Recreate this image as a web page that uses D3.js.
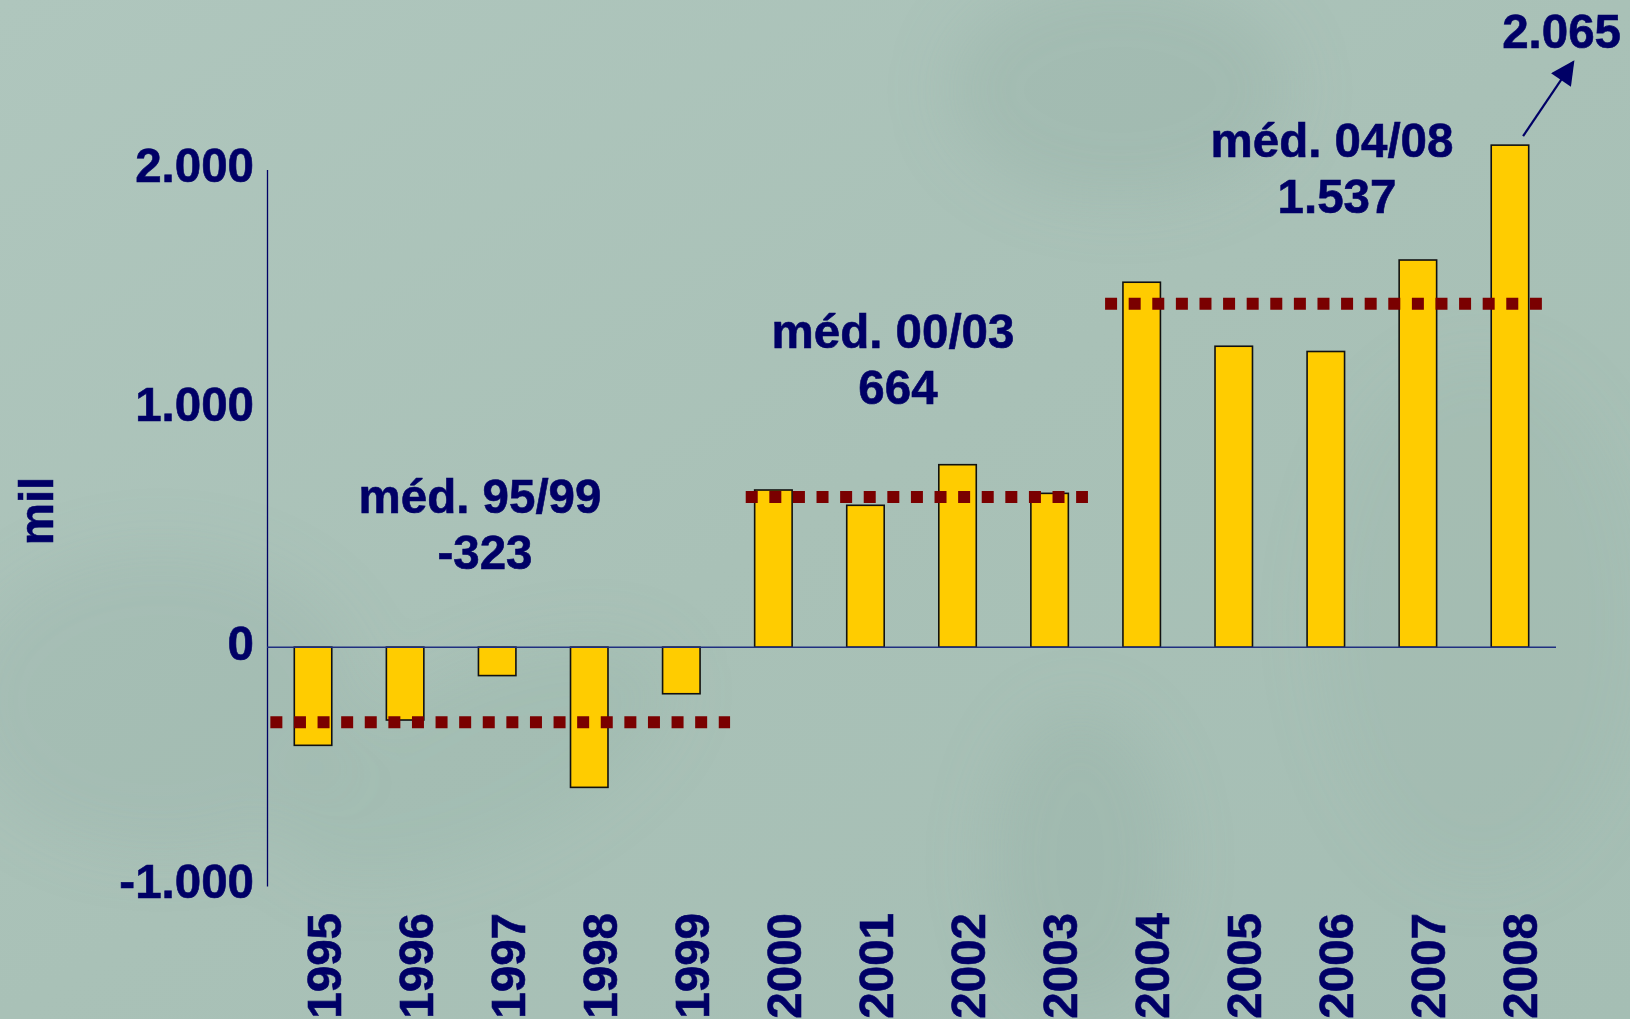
<!DOCTYPE html>
<html>
<head>
<meta charset="utf-8">
<script src="https://cdn.jsdelivr.net/npm/d3@7.9.0/dist/d3.min.js"></script>
<style>
  html, body { margin: 0; padding: 0; background: #aac2b8; }
  svg { display: block; }
  text { font-family: "Liberation Sans", Arial, Helvetica, sans-serif; font-weight: bold; fill: #000066;
         stroke: #000066; stroke-width: 0.6px; }
</style>
</head>
<body>
<svg id="chart" width="1630" height="1019"></svg>
<script>
// saldo anual (mil)
const years = ["1995", "1996", "1997", "1998", "1999", "2000", "2001",
  "2002", "2003", "2004", "2005", "2006", "2007", "2008"];
const values = [-411, -305, -119, -587, -195, 658, 594, 764, 644,
  1528, 1260, 1238, 1621, 2102];

// médias por período
const periodStart = ["1995", "2000", "2004"];
const periodEnd = ["1999", "2003", "2008"];
const periodLabels = ["méd. 95/99", "méd. 00/03", "méd. 04/08"];
const periodAvg = [-323, 664, 1537];
const periodLine = [-314, 629, 1438]; // altura da linha pontilhada no gráfico

const yTicks = [-1000, 0, 1000, 2000];
const peakLabel = 2065;

const width = 1630, height = 1019;
const fontSize = 47.5;
const svg = d3.select("#chart");

const locale = d3.formatLocale({ decimal: ",", thousands: ".", grouping: [3], currency: ["R$", ""], minus: "-" });
const fmt = locale.format(",d");

// fundo
const defs = svg.append("defs");
const bg = defs.append("linearGradient").attr("id", "bg")
  .attr("x1", 0).attr("y1", 0).attr("x2", 1).attr("y2", 1);
bg.append("stop").attr("offset", 0).attr("stop-color", "#afc6bd");
bg.append("stop").attr("offset", 0.5).attr("stop-color", "#a9c1b7");
bg.append("stop").attr("offset", 1).attr("stop-color", "#a5beb4");
defs.append("filter").attr("id", "soft")
  .append("feGaussianBlur").attr("stdDeviation", 30);

svg.append("rect").attr("width", width).attr("height", height).attr("fill", "url(#bg)");
const shade = svg.append("g").attr("filter", "url(#soft)").attr("fill", "#93ada3");
shade.append("ellipse").attr("cx", 1120).attr("cy", 90).attr("rx", 170).attr("ry", 110).attr("opacity", 0.3);
shade.append("ellipse").attr("cx", 160).attr("cy", 700).attr("rx", 200).attr("ry", 150).attr("opacity", 0.22);
shade.append("ellipse").attr("cx", 1080).attr("cy", 860).attr("rx", 90).attr("ry", 150).attr("opacity", 0.3);
shade.append("ellipse").attr("cx", 480).attr("cy", 760).attr("rx", 210).attr("ry", 90)
  .attr("transform", "rotate(-25 480 760)").attr("opacity", 0.2);
shade.append("ellipse").attr("cx", 1480).attr("cy", 620).attr("rx", 160).attr("ry", 260).attr("opacity", 0.15);

// escalas
const x = d3.scaleBand().domain(years).range([267, 1556])
  .paddingInner(0.593).paddingOuter(0.2965);
const y = d3.scaleLinear().domain([-1000, 2000]).range([886, 169.5]);

// eixo y
const yAxis = svg.append("g")
  .attr("transform", `translate(${x.range()[0]},0)`)
  .call(d3.axisLeft(y).tickValues(yTicks).tickFormat(fmt).tickSize(0).tickSizeOuter(0).tickPadding(13));
yAxis.select(".domain").attr("stroke", "#000066").attr("stroke-width", 1.3);
yAxis.selectAll("text").attr("font-size", fontSize).attr("fill", "#000066")
  .attr("dy", "0.25em").style("font-family", "'Liberation Sans', Arial, sans-serif").style("font-weight", "bold");

svg.append("text")
  .attr("transform", "translate(53,511) rotate(-90)")
  .attr("text-anchor", "middle").attr("font-size", fontSize).text("mil");

// barras
svg.append("g").selectAll("rect").data(years).join("rect")
  .attr("x", d => x(d))
  .attr("width", x.bandwidth())
  .attr("y", (d, i) => y(Math.max(0, values[i])))
  .attr("height", (d, i) => Math.abs(y(values[i]) - y(0)))
  .attr("fill", "#ffcc00").attr("stroke", "#111").attr("stroke-width", 1.6);

// linha zero
svg.append("line")
  .attr("x1", x.range()[0]).attr("x2", x.range()[1])
  .attr("y1", y(0)).attr("y2", y(0))
  .attr("stroke", "#1f2f80").attr("stroke-width", 1.5);

// linhas das médias (folga em fração do passo, antes/depois das barras)
const step = x.step();
const padL = [0.26, 0.097, 0.194];
const padR = [0.326, 0.213, 0.155];
svg.append("g").selectAll("line").data(periodLine).join("line")
  .attr("x1", (d, i) => x(periodStart[i]) - padL[i] * step)
  .attr("x2", (d, i) => x(periodEnd[i]) + x.bandwidth() + padR[i] * step)
  .attr("y1", d => y(d)).attr("y2", d => y(d))
  .attr("stroke", "#7a0000").attr("stroke-width", 12)
  .attr("stroke-dasharray", "12 11.6");

// rótulos das médias
const labelPos = [[480, 513], [893, 348], [1332, 157]];
periodLabels.forEach((lab, i) => {
  const t = svg.append("text").attr("text-anchor", "middle").attr("font-size", fontSize)
    .attr("x", labelPos[i][0]).attr("y", labelPos[i][1]);
  t.append("tspan").attr("x", labelPos[i][0]).text(lab);
  t.append("tspan").attr("x", labelPos[i][0] + 5).attr("dy", 56).text(fmt(periodAvg[i]));
});

// rótulos dos anos
svg.append("g").selectAll("text").data(years).join("text")
  .attr("transform", d => `translate(${x(d) + x.bandwidth() / 2 + 27.5},913) rotate(-90)`)
  .attr("text-anchor", "end").attr("font-size", fontSize).text(d => d);

// seta e valor de 2008
defs.append("marker").attr("id", "arrow")
  .attr("viewBox", "0 0 10 10").attr("refX", 9).attr("refY", 5)
  .attr("markerWidth", 26).attr("markerHeight", 24).attr("markerUnits", "userSpaceOnUse")
  .attr("orient", "auto")
  .append("path").attr("d", "M0,0 L10,5 L0,10 Z").attr("fill", "#000066");

const last = years[years.length - 1];
const ax0 = x(last) + x.bandwidth() * 0.85, ay0 = y(values[values.length - 1]) - 9;
svg.append("line")
  .attr("x1", ax0).attr("y1", ay0).attr("x2", ax0 + 50).attr("y2", ay0 - 74)
  .attr("stroke", "#000066").attr("stroke-width", 2.2)
  .attr("marker-end", "url(#arrow)");
svg.append("text").attr("x", 1621).attr("y", 48).attr("text-anchor", "end")
  .attr("font-size", fontSize).text(fmt(peakLabel));
</script>
</body>
</html>
